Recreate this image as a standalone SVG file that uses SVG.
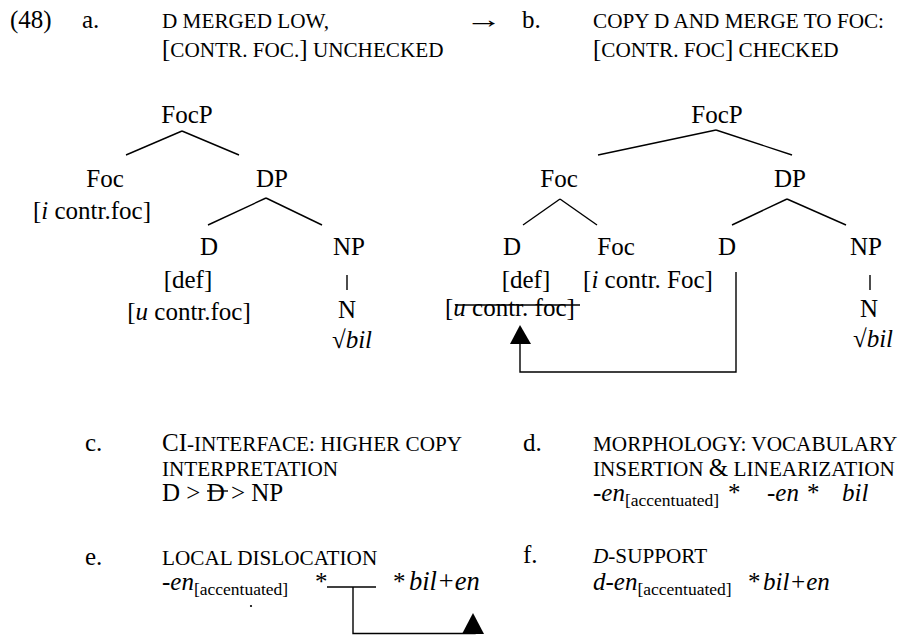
<svg xmlns="http://www.w3.org/2000/svg" width="910" height="635" viewBox="0 0 910 635" font-family="Liberation Serif">
<style>
text{font-size:25px;fill:#000}
.sc{font-size:21.2px}
.sub{font-size:17.5px}
.it{font-style:italic}
.m{text-anchor:middle}
line,polyline{stroke:#000;stroke-width:1.4;fill:none}
</style>
<rect width="910" height="635" fill="#fff"/>
<g id="header">
<text font-family="Liberation Serif" x="10" y="28">(48)</text>
<text font-family="Liberation Serif" x="82" y="28">a.</text>
<text font-family="Liberation Serif" x="162" y="28" class="sc">D MERGED LOW,</text>
<text font-family="Liberation Serif" x="162" y="57"><tspan font-family="Liberation Serif">[</tspan><tspan font-family="Liberation Serif" class="sc" font-size="21.6">CONTR. FOC.</tspan><tspan font-family="Liberation Serif">]</tspan><tspan font-family="Liberation Serif" class="sc" font-size="21.6"> UNCHECKED</tspan></text>
<text font-family="Liberation Serif" transform="translate(465,28) scale(1.5,1)">→</text>
<text font-family="Liberation Serif" x="522" y="28">b.</text>
<text font-family="Liberation Serif" x="593" y="28" class="sc" font-size="21.9">COPY D AND MERGE TO FOC:</text>
<text font-family="Liberation Serif" x="593" y="57"><tspan font-family="Liberation Serif">[</tspan><tspan font-family="Liberation Serif" class="sc">CONTR. FOC</tspan><tspan font-family="Liberation Serif">]</tspan><tspan font-family="Liberation Serif" class="sc"> CHECKED</tspan></text>
</g>
<g id="treeA">
<g id="a-FocP"><text font-family="Liberation Serif" x="187" y="123" class="m">FocP</text></g>
<g id="a-Foc"><text font-family="Liberation Serif" x="105" y="187" class="m">Foc</text><text font-family="Liberation Serif" x="92" y="219" class="m">[<tspan font-family="Liberation Serif" class="it">i</tspan> contr.foc]</text></g>
<g id="a-DP"><text font-family="Liberation Serif" x="272" y="187" class="m">DP</text></g>
<g id="a-D"><text font-family="Liberation Serif" x="209" y="255" class="m">D</text><text font-family="Liberation Serif" x="188" y="288" class="m">[def]</text><text font-family="Liberation Serif" x="189" y="320" class="m">[<tspan font-family="Liberation Serif" class="it">u</tspan> contr.foc]</text></g>
<g id="a-NP"><text font-family="Liberation Serif" x="349" y="255" class="m">NP</text></g>
<g id="a-N"><text font-family="Liberation Serif" x="347" y="318" class="m">N</text><text font-family="Liberation Serif" x="352" y="348" class="m">√<tspan font-family="Liberation Serif" class="it">bil</tspan></text></g>
</g>
<g id="treeB">
<g id="b-FocP"><text font-family="Liberation Serif" x="717" y="123" class="m">FocP</text></g>
<g id="b-Foc"><text font-family="Liberation Serif" x="559" y="187" class="m">Foc</text></g>
<g id="b-DP"><text font-family="Liberation Serif" x="790" y="187" class="m">DP</text></g>
<g id="b-D1"><text font-family="Liberation Serif" x="512" y="255" class="m">D</text><text font-family="Liberation Serif" x="526" y="288" class="m">[def]</text><text font-family="Liberation Serif" x="445" y="316">[<tspan font-family="Liberation Serif" class="it">u</tspan> contr. foc]</text></g>
<g id="b-Foc2"><text font-family="Liberation Serif" x="616" y="255" class="m">Foc</text><text font-family="Liberation Serif" x="648" y="288" class="m">[<tspan font-family="Liberation Serif" class="it">i</tspan> contr. Foc]</text></g>
<g id="b-D2"><text font-family="Liberation Serif" x="727" y="255" class="m">D</text></g>
<g id="b-NP"><text font-family="Liberation Serif" x="866" y="255" class="m">NP</text></g>
<g id="b-N"><text font-family="Liberation Serif" x="869" y="317" class="m">N</text><text font-family="Liberation Serif" x="873" y="347" class="m">√<tspan font-family="Liberation Serif" class="it">bil</tspan></text></g>
</g>
<g id="steps">
<text font-family="Liberation Serif" x="85" y="451">c.</text>
<text font-family="Liberation Serif" x="162" y="451"><tspan font-family="Liberation Serif">CI</tspan><tspan font-family="Liberation Serif" class="sc" font-size="21.7">-INTERFACE: HIGHER COPY</tspan></text>
<text font-family="Liberation Serif" x="162" y="476" class="sc">INTERPRETATION</text>
<text font-family="Liberation Serif" x="162" y="501">D &gt; D &gt; NP</text>
<text font-family="Liberation Serif" x="523" y="451">d.</text>
<text font-family="Liberation Serif" x="593" y="451" class="sc" font-size="22">MORPHOLOGY: VOCABULARY</text>
<text font-family="Liberation Serif" x="593" y="476"><tspan font-family="Liberation Serif" class="sc" font-size="22">INSERTION </tspan><tspan font-family="Liberation Serif" font-size="25">&amp;</tspan><tspan font-family="Liberation Serif" class="sc" font-size="22"> LINEARIZATION</tspan></text>
<text font-family="Liberation Serif" x="593" y="501"><tspan font-family="Liberation Serif" class="it">-en</tspan><tspan font-family="Liberation Serif" class="sub" dy="5">[accentuated]</tspan><tspan font-family="Liberation Serif" dy="-5" x="728">*</tspan><tspan font-family="Liberation Serif" class="it" x="767">-en</tspan><tspan font-family="Liberation Serif" x="807">*</tspan><tspan font-family="Liberation Serif" class="it" x="842">bil</tspan></text>
<text font-family="Liberation Serif" x="85" y="565">e.</text>
<text font-family="Liberation Serif" x="162" y="565" class="sc">LOCAL DISLOCATION</text>
<text font-family="Liberation Serif" x="162" y="590"><tspan font-family="Liberation Serif" class="it">-en</tspan><tspan font-family="Liberation Serif" class="sub" dy="5">[accentuated]</tspan><tspan font-family="Liberation Serif" dy="-5" x="315">*</tspan><tspan font-family="Liberation Serif" x="393">*</tspan><tspan font-family="Liberation Serif" class="it" x="409" font-size="26.5">bil+en</tspan></text>
<text font-family="Liberation Serif" x="523" y="563">f.</text>
<text font-family="Liberation Serif" x="593" y="563"><tspan font-family="Liberation Serif" class="it sc">D</tspan><tspan font-family="Liberation Serif" class="sc">-SUPPORT</tspan></text>
<text font-family="Liberation Serif" x="593" y="590"><tspan font-family="Liberation Serif" class="it">d-en</tspan><tspan font-family="Liberation Serif" class="sub" dy="5">[accentuated]</tspan><tspan font-family="Liberation Serif" dy="-5" x="748">*</tspan><tspan font-family="Liberation Serif" class="it" x="763">bil+en</tspan></text>
</g>
<g id="connectors">
<line x1="182" y1="131" x2="126" y2="155"/>
<line x1="182" y1="131" x2="239" y2="155"/>
<line x1="266" y1="198" x2="208" y2="225"/>
<line x1="266" y1="198" x2="322" y2="225"/>
<line x1="347" y1="275" x2="347" y2="290"/>
<line x1="716" y1="130" x2="598" y2="155"/>
<line x1="716" y1="130" x2="792" y2="155"/>
<line x1="560" y1="199" x2="523" y2="225"/>
<line x1="560" y1="199" x2="597" y2="225"/>
<line x1="787" y1="199" x2="732" y2="225"/>
<line x1="787" y1="199" x2="846" y2="225"/>
<line x1="870" y1="275" x2="870" y2="290"/>
<line x1="455" y1="305" x2="580" y2="305"/>
<line x1="207" y1="491" x2="228" y2="491"/>
<polyline points="736,272 736,372 520,372 520,343"/>
<polygon points="520,325 510,344 531,344" fill="#000"/>
<line x1="327" y1="587" x2="376" y2="587"/>
<polyline points="353,587 353,633.5 475,633.5 475,632"/>
<polygon points="473,613 462,634 484,634" fill="#000"/>
<circle cx="251" cy="606" r="1.1" fill="#000"/>
</g>
</svg>
